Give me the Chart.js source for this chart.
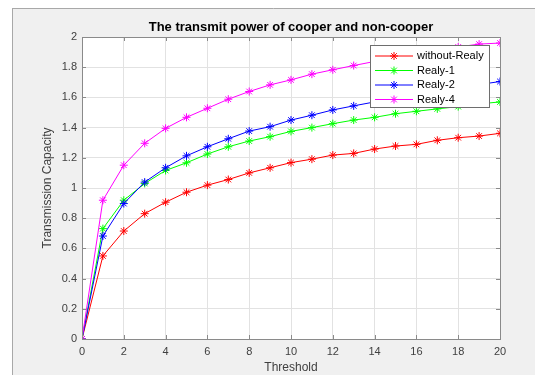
<!DOCTYPE html>
<html>
<head>
<meta charset="utf-8">
<script src="https://cdn.jsdelivr.net/npm/chart.js"></script>
<style>
  body { margin: 0; background: #ffffff; }
  canvas { display: block; }
</style>
</head>
<body>
<canvas id="capacity" width="535" height="375"></canvas>
<script>
// threshold values (x axis)
const thresholds = [0, 1, 2, 3, 4, 5, 6, 7, 8, 9, 10, 11, 12, 13, 14, 15, 16, 17, 18, 19, 20];
// transmission capacity
const withoutRealy = [0, 0.55, 0.715, 0.83, 0.906, 0.972, 1.019, 1.056, 1.100, 1.134, 1.168, 1.191, 1.218, 1.229, 1.258, 1.278, 1.289, 1.316, 1.333, 1.344, 1.362];
const realy1 = [0, 0.731, 0.919, 1.030, 1.116, 1.167, 1.225, 1.273, 1.311, 1.340, 1.375, 1.400, 1.426, 1.450, 1.468, 1.492, 1.508, 1.524, 1.539, 1.557, 1.570];
const realy2 = [0, 0.682, 0.897, 1.039, 1.134, 1.213, 1.273, 1.326, 1.377, 1.406, 1.450, 1.482, 1.517, 1.544, 1.570, 1.592, 1.615, 1.640, 1.662, 1.685, 1.705];
const realy4 = [0, 0.919, 1.151, 1.296, 1.395, 1.468, 1.528, 1.588, 1.639, 1.683, 1.716, 1.754, 1.783, 1.811, 1.838, 1.860, 1.880, 1.900, 1.934, 1.953, 1.960];

const seriesNames = ['without-Realy', 'Realy-1', 'Realy-2', 'Realy-4'];
const seriesColors = ['#ff0000', '#00ff00', '#0000ff', '#ff00ff'];
const seriesValues = [withoutRealy, realy1, realy2, realy4];

const boxColor = '#8a8a8a';
const labelColor = '#404040';

function toPoints(values) {
  return thresholds.map(function (t, i) { return { x: t, y: values[i] }; });
}

function drawStar(ctx, x, y, r) {
  if (Chart.helpers && Chart.helpers.drawPoint) {
    Chart.helpers.drawPoint(ctx, { pointStyle: 'star', radius: r, rotation: 0, borderWidth: 1 }, x, y);
    return;
  }
  ctx.beginPath();
  for (let k = 0; k < 4; k++) {
    const a = k * Math.PI / 4;
    ctx.moveTo(x - r * Math.cos(a), y - r * Math.sin(a));
    ctx.lineTo(x + r * Math.cos(a), y + r * Math.sin(a));
  }
  ctx.stroke();
}

// gray figure background, white axes, MATLAB style box + inward ticks + legend
const figurePlugin = {
  id: 'figure',
  beforeDraw: function (chart) {
    const ctx = chart.ctx;
    const a = chart.chartArea;
    ctx.save();
    ctx.fillStyle = '#ffffff';
    ctx.fillRect(0, 0, chart.width, chart.height);
    ctx.fillStyle = '#f0f0f0';
    ctx.fillRect(12, 8, chart.width - 12, chart.height - 8);
    ctx.strokeStyle = '#a8a8a8';
    ctx.lineWidth = 1;
    ctx.beginPath();
    ctx.moveTo(12, 8.5);
    ctx.lineTo(chart.width, 8.5);
    ctx.moveTo(12.5, 8);
    ctx.lineTo(12.5, chart.height);
    ctx.stroke();
    ctx.fillStyle = '#ffffff';
    ctx.fillRect(a.left, a.top, a.right - a.left, a.bottom - a.top);
    ctx.restore();
  },
  afterDraw: function (chart) {
    const ctx = chart.ctx;
    const a = chart.chartArea;
    const xs = chart.scales.x;
    const ys = chart.scales.y;
    ctx.save();
    ctx.strokeStyle = boxColor;
    ctx.lineWidth = 1;
    ctx.strokeRect(Math.round(a.left) + 0.5, Math.round(a.top) + 0.5, Math.round(a.right - a.left), Math.round(a.bottom - a.top));
    ctx.beginPath();
    xs.ticks.forEach(function (t) {
      const px = Math.round(xs.getPixelForValue(t.value)) + 0.5;
      ctx.moveTo(px, a.bottom);
      ctx.lineTo(px, a.bottom - 4);
      ctx.moveTo(px, a.top);
      ctx.lineTo(px, a.top + 4);
    });
    ys.ticks.forEach(function (t) {
      const py = Math.round(ys.getPixelForValue(t.value)) + 0.5;
      ctx.moveTo(a.left, py);
      ctx.lineTo(a.left + 4, py);
      ctx.moveTo(a.right, py);
      ctx.lineTo(a.right - 4, py);
    });
    ctx.stroke();

    // legend box in the upper right corner
    const lx = 370.5, ly = 45.5, lw = 119, lh = 62;
    ctx.fillStyle = '#ffffff';
    ctx.fillRect(lx, ly, lw, lh);
    ctx.strokeStyle = '#6e6e6e';
    ctx.strokeRect(lx, ly, lw, lh);
    ctx.font = '11px Arial, "Liberation Sans", sans-serif';
    ctx.textBaseline = 'middle';
    ctx.textAlign = 'left';
    seriesNames.forEach(function (name, i) {
      const rowY = 56 + i * 14.5;
      ctx.strokeStyle = seriesColors[i];
      ctx.fillStyle = seriesColors[i];
      ctx.lineWidth = 1;
      ctx.beginPath();
      ctx.moveTo(375, rowY);
      ctx.lineTo(413, rowY);
      ctx.stroke();
      drawStar(ctx, 394, rowY, 4);
      ctx.fillStyle = '#000000';
      ctx.fillText(name, 417, rowY);
    });
    ctx.restore();
  }
};

const ctx = document.getElementById('capacity').getContext('2d');
const chart = new Chart(ctx, {
  type: 'line',
  data: {
    datasets: seriesNames.map(function (name, i) {
      return {
        label: name,
        data: toPoints(seriesValues[i]),
        borderColor: seriesColors[i],
        backgroundColor: seriesColors[i],
        borderWidth: 1,
        pointStyle: 'star',
        pointRadius: 4,
        pointBorderWidth: 1,
        pointBorderColor: seriesColors[i],
        tension: 0,
        fill: false,
        order: 3 - i // last series on top, as in the original
      };
    })
  },
  options: {
    responsive: false,
    animation: false,
    devicePixelRatio: 1,
    layout: {
      padding: { top: 0, bottom: 0, left: 0, right: 35 }
    },
    plugins: {
      legend: { display: false },
      tooltip: { enabled: false },
      title: {
        display: true,
        fullSize: false,
        text: 'The transmit power of cooper and non-cooper',
        color: '#000000',
        font: { family: 'Arial, "Liberation Sans", sans-serif', size: 13, weight: 'bold' },
        padding: { top: 20, bottom: 1.4 }
      }
    },
    scales: {
      x: {
        type: 'linear',
        min: 0,
        max: 20,
        afterFit: function (s) { s.height = 36; },
        ticks: {
          stepSize: 2,
          color: labelColor,
          padding: 6,
          maxRotation: 0,
          font: { family: 'Arial, "Liberation Sans", sans-serif', size: 11 }
        },
        grid: { color: '#e2e2e2', drawTicks: false },
        border: { display: false },
        title: {
          display: true,
          text: 'Threshold',
          color: labelColor,
          font: { family: 'Arial, "Liberation Sans", sans-serif', size: 12 },
          padding: { top: 0, bottom: 0 }
        }
      },
      y: {
        type: 'linear',
        min: 0,
        max: 2,
        afterFit: function (s) { s.width = 82; },
        ticks: {
          stepSize: 0.2,
          color: labelColor,
          padding: 5,
          font: { family: 'Arial, "Liberation Sans", sans-serif', size: 11 },
          callback: function (v) { return String(+(+v).toFixed(1)); }
        },
        grid: { color: '#e2e2e2', drawTicks: false },
        border: { display: false },
        title: {
          display: true,
          text: 'Transmission Capacity',
          color: labelColor,
          font: { family: 'Arial, "Liberation Sans", sans-serif', size: 12 },
          padding: { top: 40, bottom: 40 }
        }
      }
    }
  },
  plugins: [figurePlugin]
});
</script>
</body>
</html>
